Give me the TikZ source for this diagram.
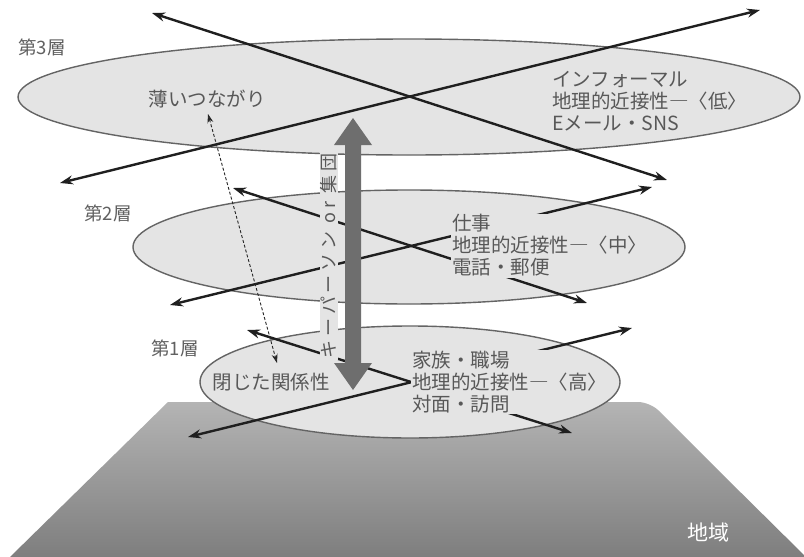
\documentclass[tikz,border=0pt]{standalone}
\usepackage{fontspec}
\setmainfont{Noto Sans CJK JP}
\newfontfamily\spacedfont[LetterSpace=22]{Noto Sans CJK JP}
\usetikzlibrary{shapes.geometric,arrows.meta}
\definecolor{ellfill}{RGB}{228,228,228}
\definecolor{elldraw}{RGB}{100,100,100}
\definecolor{txtgray}{RGB}{88,88,88}
\definecolor{pillar}{RGB}{110,110,110}
\definecolor{groundtop}{RGB}{180,180,180}
\definecolor{groundbot}{RGB}{126,126,126}
\begin{document}
\begin{tikzpicture}[x=1pt,y=-1pt,
  layer/.style={ellipse, fill=ellfill, draw=elldraw, line width=1.4pt, inner sep=0pt},
  link/.style={line width=2.4pt, draw=black!88, {Stealth[length=13pt,width=9pt]}-{Stealth[length=13pt,width=9pt]}},
  weaklink/.style={line width=0.9pt, draw=black!85, dash pattern=on 3pt off 2pt, {Stealth[length=9pt,width=6pt]}-{Stealth[length=9pt,width=6pt]}},
  info/.style={anchor=west, align=left, fill=ellfill, inner sep=1pt, text=txtgray, font=\fontsize{19.5}{22}\selectfont},
  tag/.style={text=txtgray, inner sep=1pt, font=\fontsize{19.5}{22}\selectfont},
  layerlabel/.style={text=black!62, inner sep=0pt, font=\fontsize{18.5}{20}\selectfont},
]
\useasboundingbox (0,0) rectangle (804,557);
\fill[white] (0,0) rectangle (804,557);

% ground plane
\shade[top color=groundtop, bottom color=groundbot]
  (168,402) -- (620,402) [rounded corners=12pt] -- (650,402) -- (720,472) [sharp corners] -- (806,557) -- (10,557) -- cycle;
\node[text=white, font=\fontsize{21}{24}\selectfont, inner sep=0pt] (chiiki) at (708,533) {地域};

% layers
\node[layer, minimum width=782pt, minimum height=116pt] (L3) at (409,97) {};
\node[layer, minimum width=552pt, minimum height=114pt] (L2) at (409,247) {};
\node[layer, minimum width=420pt, minimum height=112pt] (L1) at (410,382) {};

\node[layerlabel] (lab3) at (42,47) {第3層};
\node[layerlabel] (lab2) at (108,213) {第2層};
\node[layerlabel] (lab1) at (175,348) {第1層};

% arrow end points
\coordinate (a3s) at (152,13);  \coordinate (a3e) at (667,180);
\coordinate (b3s) at (60,183);  \coordinate (b3e) at (760,10);
\coordinate (a2s) at (233,188); \coordinate (a2e) at (587,303);
\coordinate (b2s) at (170,305); \coordinate (b2e) at (652,187);
\coordinate (a1s) at (247,330); \coordinate (a1e) at (572,433);
\coordinate (b1s) at (188,437); \coordinate (b1e) at (632,328);
\coordinate (ws) at (208,114);  \coordinate (we) at (277,363);

\draw[link] (a3s) -- (a3e);
\draw[link] (b3s) -- (b3e);
\draw[link] (a2s) -- (a2e);
\draw[link] (b2s) -- (b2e);
\draw[link] (a1s) -- (a1e);
\draw[link] (b1s) -- (b1e);
\draw[weaklink] (ws) -- (we);

% texts (their grey backing kept inside the layer)
\begin{scope}
  \clip (409,97) ellipse [x radius=389, y radius=56];
  \node[info] (t3) at (551,101) {インフォーマル\\地理的近接性―〈低〉\\Eメール・SNS};
\end{scope}
\begin{scope}
  \clip (409,247) ellipse [x radius=274, y radius=55];
  \node[info] (t2) at (451,245.5) {仕事\\地理的近接性―〈中〉\\電話・郵便};
\end{scope}
\begin{scope}
  \clip (410,382) ellipse [x radius=208, y radius=54];
  \node[info] (t1) at (411,382) {家族・職場\\地理的近接性―〈高〉\\対面・訪問};
\end{scope}
\node[tag] (thin) at (207,99) {薄いつながり};
\node[tag, fill=ellfill] (closed) at (271,382) {閉じた関係性};

% key person pillar
\fill[pillar] (353,118) -- (372,145) -- (361,145) -- (361,363) -- (372,363) -- (353,390)
  -- (334,363) -- (345,363) -- (345,145) -- (334,145) -- cycle;
\node[rotate=90, fill=ellfill, inner sep=1pt, text=txtgray, font=\spacedfont\fontsize{18}{20}\selectfont] (kp) at (329,256) {キーパーソン or 集団};
\end{tikzpicture}
\end{document}
